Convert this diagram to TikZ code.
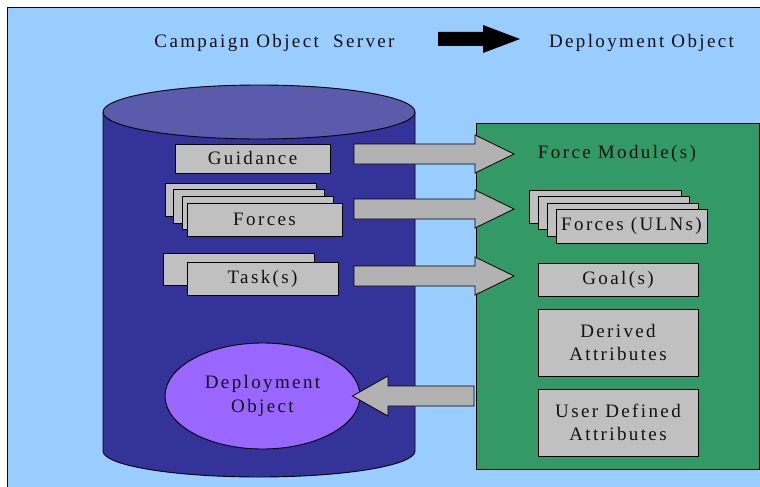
\documentclass[tikz,border=0pt]{standalone}
\usepackage{fontspec}
\setmainfont{Liberation Serif}[LetterSpace=12.5]
\usetikzlibrary{shapes.geometric}
\definecolor{bgblue}{HTML}{99CCFF}
\definecolor{cylbody}{HTML}{333399}
\definecolor{cyltop}{HTML}{5B5BAB}
\definecolor{modgreen}{HTML}{339966}
\definecolor{boxgray}{HTML}{C0C0C0}
\definecolor{arrgray}{HTML}{B2B2B2}
\definecolor{objpurple}{HTML}{9966FF}
\definecolor{txt}{HTML}{111111}
\tikzset{
  lbl/.style={font=\fontsize{19}{23.5}\selectfont, text=txt, align=center, inner sep=0pt},
  gbox/.style={draw=black, fill=boxgray, line width=0.9pt, inner sep=0pt, lbl},
  barrow/.style={draw=black, fill=arrgray, line width=0.8pt, line join=miter},
}
\begin{document}
\begin{tikzpicture}[x=1pt,y=-1pt]
\useasboundingbox (0,0) rectangle (760,487);
\clip (0,0) rectangle (760,487);
% frame
\fill[white] (0,0) rectangle (760,487);
\draw[fill=bgblue, line width=0.9pt] (7,7) rectangle (790,520);
% titles
\node[lbl] (cos) at (274.5,43) {Campaign Object\ \ Server};
\node[lbl] (dob) at (641.5,43) {Deployment Object};
\fill[black] (438,32) -- (483,32) -- (483,25) -- (520,39) -- (483,53) -- (483,46) -- (438,46) -- cycle;
% cylinder
\draw[fill=cylbody, line width=0.9pt] (103,112) -- (103,451) arc[start angle=180, end angle=0, x radius=156, y radius=26] -- (415,112);
\draw[fill=cyltop, line width=0.9pt] (259,112) ellipse[x radius=156, y radius=27];
% green module
\draw[fill=modgreen, line width=0.9pt] (476,123) rectangle (759,469);
% left side boxes
\node[gbox, minimum width=155pt, minimum height=29pt] (guid) at (252.5,158.5) {Guidance};
\node[gbox, minimum width=151pt, minimum height=33pt] (fb1) at (240.5,199.5) {};
\node[gbox, minimum width=151pt, minimum height=34pt] (fb2) at (248.5,206) {};
\node[gbox, minimum width=151pt, minimum height=33pt] (fb3) at (257.5,212.5) {};
\node[gbox, minimum width=155pt, minimum height=33pt] (forces) at (264.5,219.5) {Forces};
\node[gbox, minimum width=151pt, minimum height=32pt] (tb1) at (238.5,269) {};
\node[gbox, minimum width=151pt, minimum height=33pt] (task) at (262.5,278.5) {Task(s)};
\node[draw=black, fill=objpurple, line width=0.9pt, ellipse, inner sep=0pt, minimum width=195pt, minimum height=106pt, lbl] (dep) at (262.5,396) {Deployment\\Object};
% right side
\node[lbl] (fm) at (617,154) {Force Module(s)};
\node[gbox, minimum width=152pt, minimum height=33pt] (ub1) at (605,206.5) {};
\node[gbox, minimum width=151pt, minimum height=33pt] (ub2) at (613.5,212.5) {};
\node[gbox, minimum width=151pt, minimum height=33pt] (ub3) at (622.5,219.5) {};
\node[gbox, minimum width=151pt, minimum height=34pt] (uln) at (631.5,226) {Forces (ULNs)};
\node[gbox, minimum width=160pt, minimum height=33pt] (goal) at (618,279.5) {Goal(s)};
\node[gbox, minimum width=160pt, minimum height=67pt] (der) at (618,342.5) {Derived\\Attributes};
\node[gbox, minimum width=160pt, minimum height=67pt] (usr) at (618,422.5) {User Defined\\Attributes};
% block arrows
\foreach \s/\t/\yc in {guid/fm/154, forces/ub1/209, task/goal/276}{
  \draw[barrow] (354,\yc-10) -- (475,\yc-10) -- (475,\yc-19) -- (514,\yc) -- (475,\yc+19) -- (475,\yc+10) -- (354,\yc+10) -- cycle;
}
\coordinate (dtip) at ([xshift=-8pt]dep.east);
\draw[barrow] (474,386) -- (388,386) -- (388,376) -- (dtip) -- (388,416) -- (388,406) -- (474,406) -- cycle;
\end{tikzpicture}
\end{document}
